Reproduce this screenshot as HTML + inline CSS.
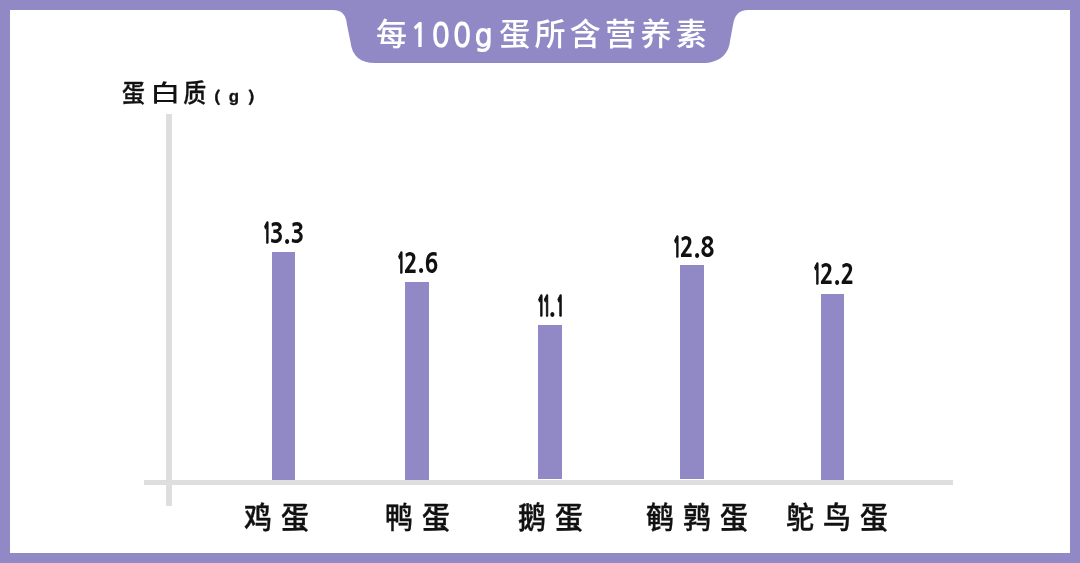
<!DOCTYPE html>
<html lang="zh-CN">
<head>
<meta charset="utf-8">
<title>每100g蛋所含营养素</title>
<style>
html,body{margin:0;padding:0;}
body{width:1080px;height:563px;overflow:hidden;position:relative;background:#9189c6;
  font-family:"Liberation Sans","Noto Sans CJK SC",sans-serif;}
.panel{position:absolute;left:10px;top:10px;width:1060px;height:543px;background:#fff;}
svg.frame{position:absolute;left:0;top:0;}
.title{position:absolute;left:376px;top:12px;color:#fff;
  font-family:"Noto Sans CJK SC",sans-serif;font-weight:500;font-size:31px;line-height:40px;letter-spacing:4.3px;white-space:nowrap;}
.title .d{font-family:"NanumGothic",sans-serif;font-weight:700;font-size:33px;letter-spacing:3px;display:inline-block;transform:scaleX(0.93);transform-origin:0 0;margin-left:-1.8px;margin-right:-2.3px;vertical-align:-2px;}
.ylab{position:absolute;left:122px;top:73px;color:#111;font-family:"Noto Sans CJK SC",sans-serif;font-weight:500;font-size:25.5px;line-height:36px;letter-spacing:8.5px;white-space:nowrap;transform:scaleX(0.9);transform-origin:0 0;-webkit-text-stroke:0.3px #111;}
.ylab .w{display:inline-block;-webkit-text-stroke:0;transform:translateX(2.6px) scale(1.33,0.88);transform-origin:50% 60%;}
.ylab .p{font-size:15px;letter-spacing:0;font-weight:700;display:inline-block;transform:scaleX(1.45);}
.ylab .g{font-family:"Liberation Sans",sans-serif;font-size:17px;letter-spacing:0;font-weight:700;display:inline-block;transform:scaleX(1.1);}
.axis{position:absolute;background:#dedede;}
.bar{position:absolute;background:#9189c6;}
.val{position:absolute;color:#111;font-family:"NanumGothic",sans-serif;font-weight:800;font-size:27.5px;line-height:30px;transform:scaleX(0.83);transform-origin:0 0;white-space:nowrap;}
.val i{font-style:normal;display:inline-block;transform:scaleX(0.55);transform-origin:3.5px 0;margin-right:-7.3px;-webkit-text-stroke:1.4px #111;}
.val i.c{margin-right:-9.2px;}
.val i.d{margin-right:-8.9px;}
.val b{font-weight:800;position:relative;top:-1.5px;}
.val b.c{margin-right:-0.6px;}
.cat{position:absolute;color:#111;font-family:"Noto Sans CJK SC",sans-serif;font-weight:500;font-size:30px;line-height:40px;letter-spacing:9.8px;white-space:nowrap;transform:scaleX(0.93);transform-origin:0 0;-webkit-text-stroke:0.4px #111;}
</style>
</head>
<body>
<div class="panel"></div>
<svg class="frame" width="1080" height="563" viewBox="0 0 1080 563">
  <path fill="#9189c6" d="M333 10 Q346 10 347 25 L350.5 42 C352 56.5 361 63 375 63 L703 63 C718 63 728.5 55.5 730 41 L733 25 Q735 10 748 10 Z"/>
</svg>
<div class="title">每<span class="d">100g</span>蛋所含营养素</div>
<div class="ylab">蛋<span class="w">白</span>质<span class="p" style="margin-left:1.3px">(</span><span class="g" style="margin-left:10px">g</span><span class="p" style="margin-left:11.5px">)</span></div>

<div class="axis" style="left:166px;top:114px;width:6px;height:392px;"></div>
<div class="axis" style="left:144px;top:479.5px;width:809px;height:5.8px;"></div>

<div class="bar" style="left:272px;top:251.5px;width:23.2px;height:228.0px;"></div>
<div class="bar" style="left:405.2px;top:282px;width:23.6px;height:197.5px;"></div>
<div class="bar" style="left:538.4px;top:324.7px;width:23.6px;height:154.8px;"></div>
<div class="bar" style="left:680px;top:265.3px;width:23.8px;height:214.2px;"></div>
<div class="bar" style="left:821.1px;top:293.5px;width:23.4px;height:186.0px;"></div>

<div class="val" style="left:262.1px;top:218.3px;"><i>1</i>3<b>.</b>3</div>
<div class="val" style="left:395.7px;top:247.8px;"><i>1</i>2<b>.</b>6</div>
<div class="val" style="left:536.1px;top:291.0px;"><i class="c">1</i><i class="d">1</i><b class="c">.</b><i>1</i></div>
<div class="val" style="left:672.1px;top:232.0px;"><i>1</i>2<b>.</b>8</div>
<div class="val" style="left:811.6px;top:259.4px;"><i>1</i>2<b>.</b>2</div>

<div class="cat" style="left:244px;top:495px;">鸡蛋</div>
<div class="cat" style="left:385px;top:495px;">鸭蛋</div>
<div class="cat" style="left:518px;top:495px;">鹅蛋</div>
<div class="cat" style="left:646px;top:495px;">鹌鹑蛋</div>
<div class="cat" style="left:786px;top:495px;">鸵鸟蛋</div>
</body>
</html>
